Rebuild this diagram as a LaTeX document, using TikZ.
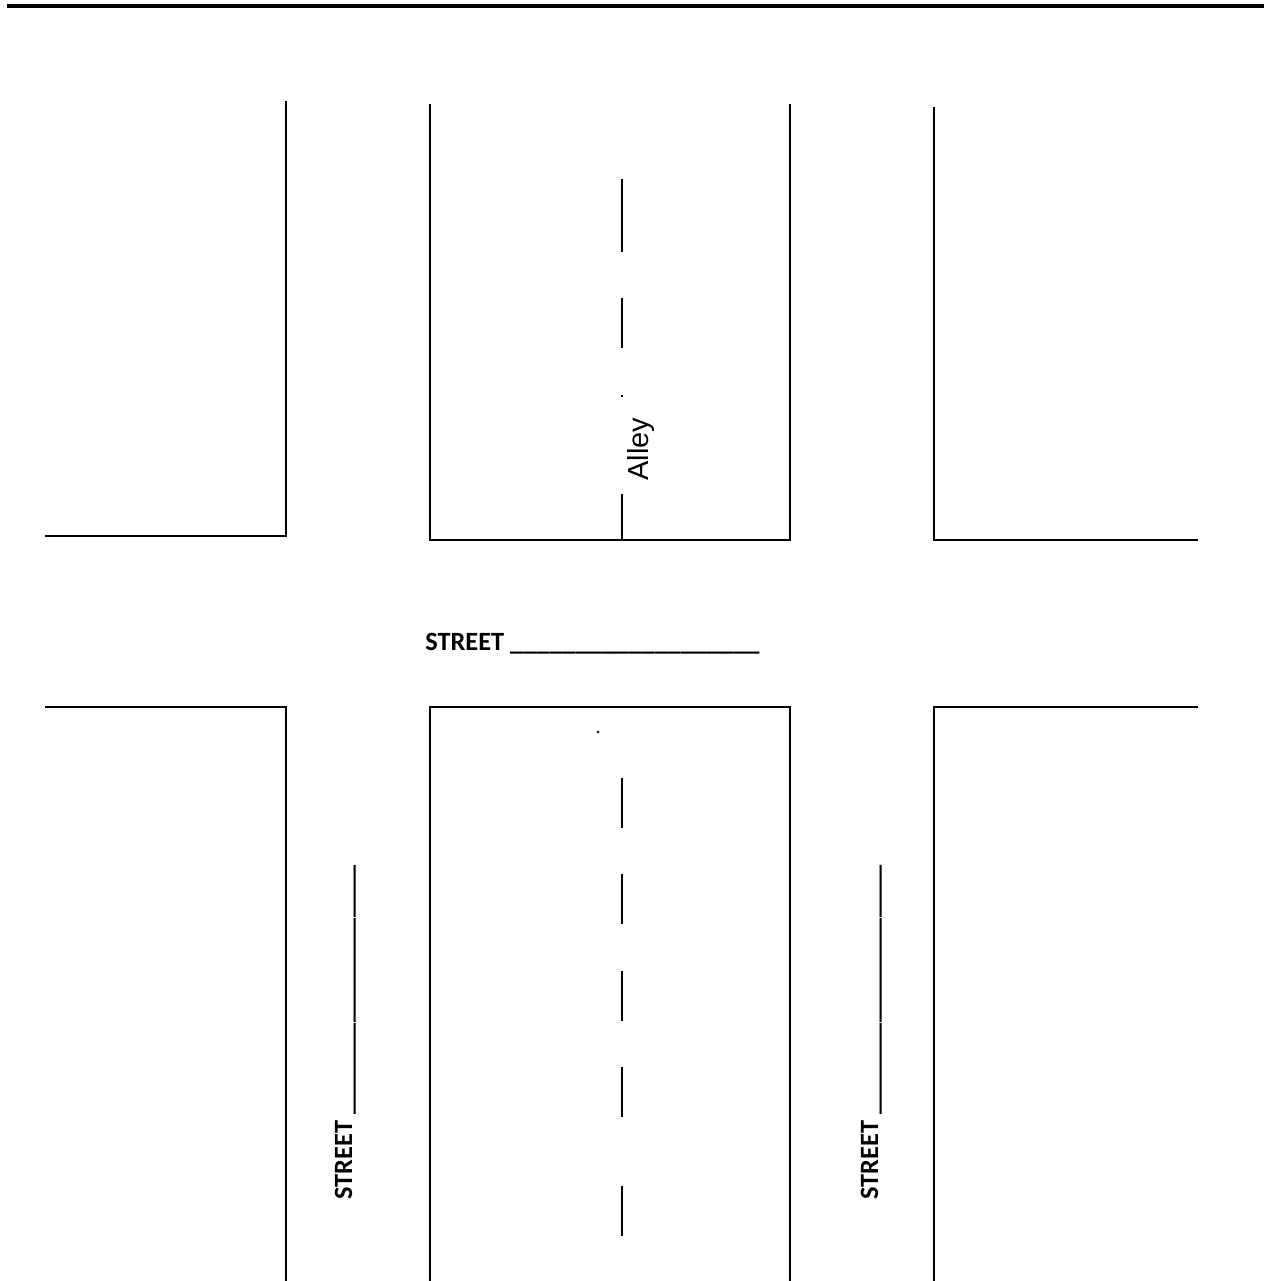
\documentclass[tikz,border=0pt]{standalone}
\usepackage{fontspec}
\setmainfont{Carlito}
\newfontfamily\alleyfont{Liberation Sans}
\tikzset{
  curb/.style={draw=black, line width=1.15pt},
  alleydash/.style={draw=black, line width=0.95pt},
  streetname/.style={font=\fontsize{15}{18}\selectfont\bfseries, inner sep=0pt, anchor=base west},
  alleyname/.style={font=\fontsize{16.5}{20}\alleyfont\selectfont, inner sep=0pt, anchor=base west, rotate=90}
}
\begin{document}
\begin{tikzpicture}[x=0.02cm, y=-0.02cm]
  \useasboundingbox (0,0) rectangle (1264,1281);
  \draw[draw=black, line width=2.3pt] (7,6) -- (1264,6);
  % upper blocks
  \draw[curb] (45,536) -- (286,536) -- (286,101);
  \draw[curb] (430,104) -- (430,540) -- (790,540) -- (790,104);
  \draw[curb] (934,107) -- (934,540) -- (1198,540);
  % lower blocks
  \draw[curb] (45,707) -- (286,707) -- (286,1281);
  \draw[curb] (430,1281) -- (430,707) -- (790,707) -- (790,1281);
  \draw[curb] (1198,707) -- (934,707) -- (934,1281);
  % alley centre line
  \foreach \ya/\yb in {179/252, 298/348, 395/397, 494/540, 778/828, 874/924, 971/1021, 1067/1117, 1186/1236}
    \draw[alleydash] (622,\ya) -- (622,\yb);
  \fill (598,732) circle (1.3);
  \node[alleyname] (alley) at (648,481) {Alley};
  \node[streetname] (cross) at (425,650) {STREET \_\_\_\_\_\_\_\_\_\_\_\_\_\_\_\_\_\_\_};
  \node[streetname, rotate=90] (left) at (352,1200) {STREET \_\_\_\_\_\_\_\_\_\_\_\_\_\_\_\_\_\_\_};
  \node[streetname, rotate=90] (right) at (878,1200) {STREET \_\_\_\_\_\_\_\_\_\_\_\_\_\_\_\_\_\_\_};
\end{tikzpicture}
\end{document}
